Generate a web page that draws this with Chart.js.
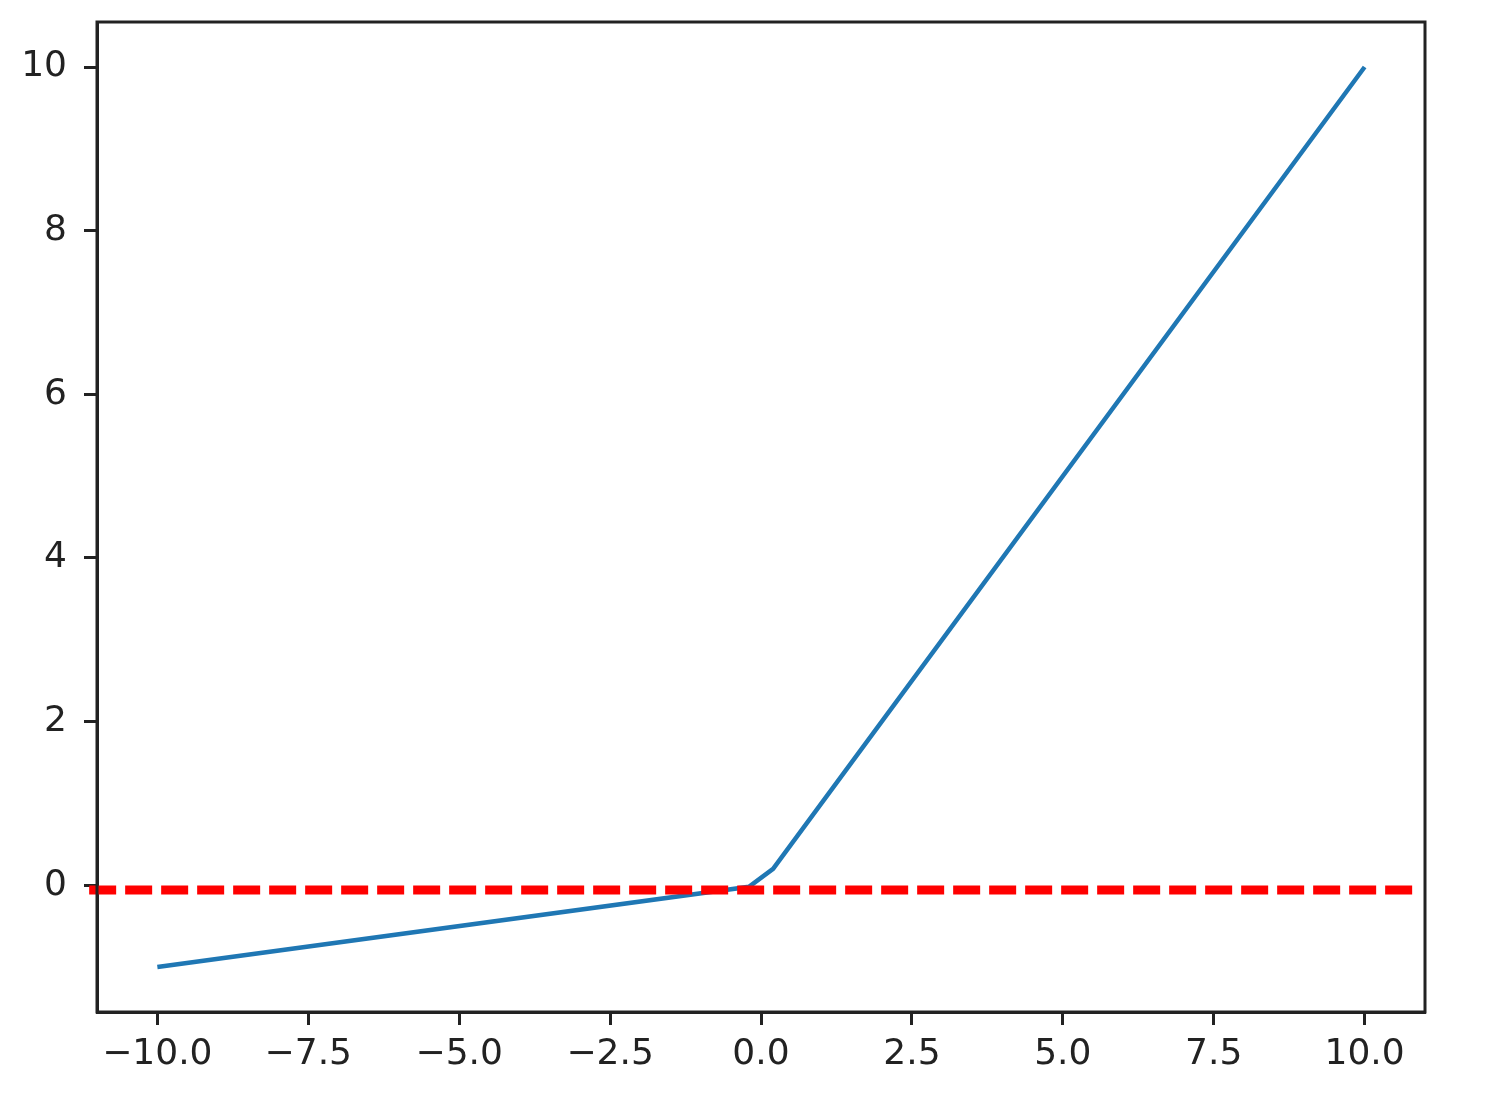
<!DOCTYPE html>
<html>
<head>
<meta charset="utf-8">
<script src="https://cdn.jsdelivr.net/npm/chart.js@4/dist/chart.umd.min.js"></script>
<style>
  html, body { margin: 0; padding: 0; background: #fff; }
  #wrap { width: 1510px; height: 1116px; }
</style>
</head>
<body>
<div id="wrap"><canvas id="chart" width="1510" height="1116"></canvas></div>
<script>
// leaky relu curve
var curveX = [-10, -0.2, 0.2, 10];
var curveY = [-1, -0.02, 0.2, 10];

// red dashed reference line
var refX = [-11.13, 10.86];
var refY = [-0.06, -0.06];

var xTicks = [-10, -7.5, -5, -2.5, 0, 2.5, 5, 7.5, 10];
var xTickLabels = ['\u221210.0', '\u22127.5', '\u22125.0', '\u22122.5', '0.0', '2.5', '5.0', '7.5', '10.0'];
var yTicks = [0, 2, 4, 6, 8, 10];
var yTickLabels = ['0', '2', '4', '6', '8', '10'];

var ctx = document.getElementById('chart').getContext('2d');

function toPoints(xs, ys) {
    return xs.map((x, i) => ({ x: x, y: ys[i] }));
}

// draws the box round the plot area
var frame = {
    id: 'frame',
    afterDraw(chart) {
        var a = chart.chartArea;
        var c = chart.ctx;
        c.save();
        c.strokeStyle = '#222';
        c.lineWidth = 3;
        c.strokeRect(a.left, a.top, a.right - a.left, a.bottom - a.top);
        c.restore();
    }
};

new Chart(ctx, {
    type: 'line',
    data: {
        datasets: [{
            data: toPoints(refX, refY),
            borderColor: '#ff0000',
            borderWidth: 9,
            borderDash: [27, 9],
            borderCapStyle: 'butt',
            pointRadius: 0,
            clip: false,
            order: 0
        }, {
            data: toPoints(curveX, curveY),
            borderColor: '#1f77b4',
            borderWidth: 4.5,
            pointRadius: 0,
            tension: 0,
            order: 1
        }]
    },
    options: {
        responsive: false,
        animation: false,
        layout: { padding: { left: 0, right: 85, top: 22, bottom: 0 } },
        plugins: { legend: { display: false }, tooltip: { enabled: false } },
        scales: {
            x: {
                type: 'linear',
                min: -11,
                max: 11,
                afterBuildTicks: axis => { axis.ticks = xTicks.map(v => ({ value: v })); },
                afterFit: axis => { axis.height = 104; axis.paddingLeft = 0; axis.paddingRight = 0; },
                grid: { drawOnChartArea: false, drawTicks: true, tickLength: 13, tickWidth: 3, tickColor: '#222' },
                border: { color: '#222', width: 3 },
                ticks: {
                    color: '#222',
                    font: { family: 'DejaVu Sans', size: 36 },
                    padding: 8,
                    maxRotation: 0,
                    autoSkip: false,
                    callback: v => xTickLabels[xTicks.indexOf(v)]
                }
            },
            y: {
                min: -1.55,
                max: 10.55,
                afterBuildTicks: axis => { axis.ticks = yTicks.map(v => ({ value: v })); },
                afterFit: axis => { axis.width = 97; axis.paddingTop = 0; axis.paddingBottom = 0; },
                grid: { drawOnChartArea: false, drawTicks: true, tickLength: 13, tickWidth: 3, tickColor: '#222' },
                border: { color: '#222', width: 3 },
                ticks: {
                    color: '#222',
                    font: { family: 'DejaVu Sans', size: 36 },
                    padding: 17,
                    autoSkip: false,
                    callback: v => yTickLabels[yTicks.indexOf(v)]
                }
            }
        }
    },
    plugins: [frame]
});
</script>
</body>
</html>
